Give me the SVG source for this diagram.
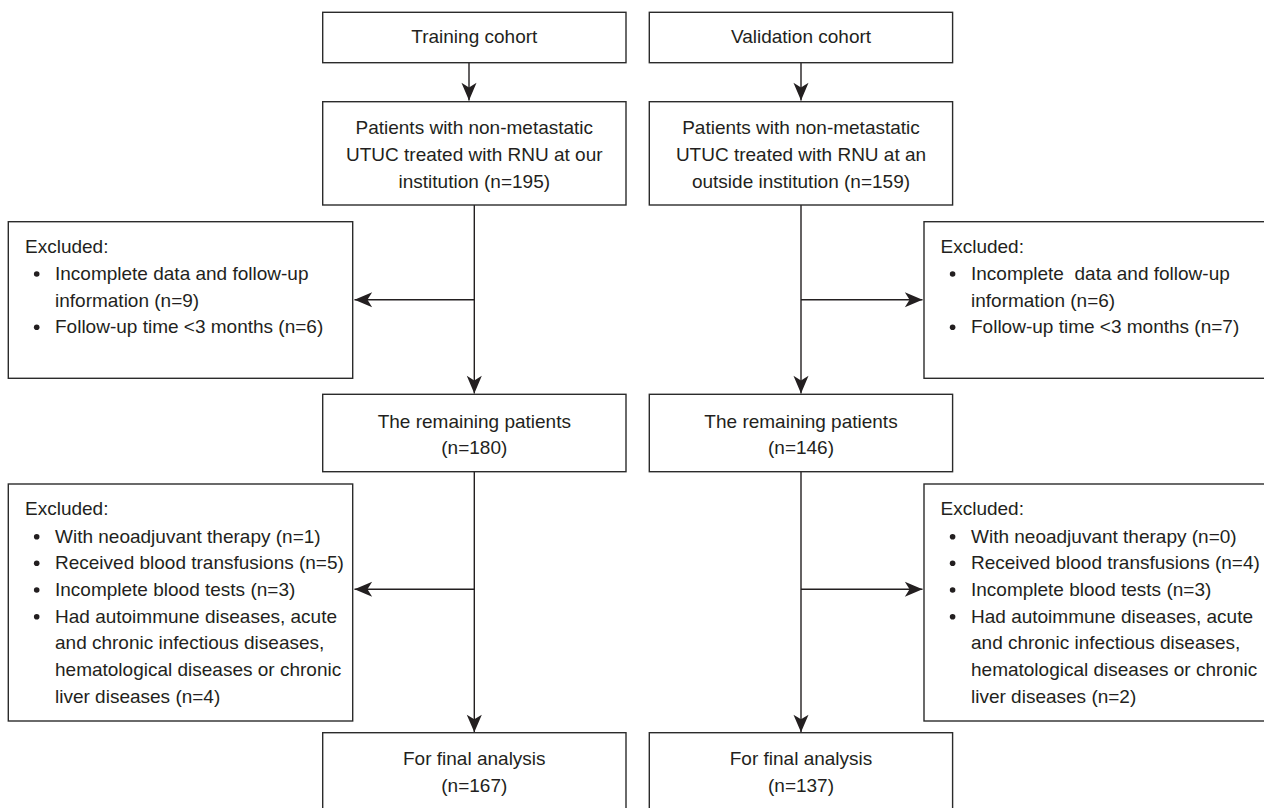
<svg xmlns="http://www.w3.org/2000/svg" width="1264" height="808" viewBox="0 0 1264 808">
<style>
.box{fill:#fff;stroke:#2b2b2b;stroke-width:1.4}
.t{font-family:"Liberation Sans",Arial,sans-serif;font-size:19px;fill:#231f20}
.c{text-anchor:middle}
.ln{fill:none;stroke:#231f20;stroke-width:1.4}
.dot{fill:#231f20}
</style>
<defs>
<marker id="ah" markerUnits="userSpaceOnUse" markerWidth="20" markerHeight="20" viewBox="-16 -8 17 16" refX="0" refY="0" orient="auto">
<path d="M0,0 L-15,-6.4 L-11,0 L-15,6.4 Z" fill="#231f20"/>
</marker>
</defs>
<rect width="1264" height="808" fill="#fff"/>
<g id="connectors">
<line class="ln" x1="469" y1="62.7" x2="469" y2="100.5" marker-end="url(#ah)"/>
<line class="ln" x1="801" y1="62.7" x2="801" y2="100.5" marker-end="url(#ah)"/>
<line class="ln" x1="474.3" y1="205" x2="474.3" y2="393.5" marker-end="url(#ah)"/>
<line class="ln" x1="801" y1="205" x2="801" y2="393.5" marker-end="url(#ah)"/>
<line class="ln" x1="474.3" y1="299.7" x2="354.5" y2="299.7" marker-end="url(#ah)"/>
<line class="ln" x1="801" y1="299.7" x2="922.5" y2="299.7" marker-end="url(#ah)"/>
<line class="ln" x1="474.3" y1="471.7" x2="474.3" y2="732.3" marker-end="url(#ah)"/>
<line class="ln" x1="801" y1="471.7" x2="801" y2="732.3" marker-end="url(#ah)"/>
<line class="ln" x1="474.3" y1="589.3" x2="354.5" y2="589.3" marker-end="url(#ah)"/>
<line class="ln" x1="801" y1="589.3" x2="922.5" y2="589.3" marker-end="url(#ah)"/>
</g>
<g id="training">
<rect class="box" x="322.7" y="12.3" width="303.3" height="50.4"/>
<text class="t c" x="474.3" y="43.3">Training cohort</text>
</g>
<g id="validation">
<rect class="box" x="649.3" y="12.3" width="303.3" height="50.4"/>
<text class="t c" x="801" y="43.3">Validation cohort</text>
</g>
<g id="patients-training">
<rect class="box" x="322.7" y="101.7" width="303.3" height="103.3"/>
<text class="t c" x="474.3" y="134.3">Patients with non-metastatic</text>
<text class="t c" x="474.3" y="161">UTUC treated with RNU at our</text>
<text class="t c" x="474.3" y="187.7">institution (n=195)</text>
</g>
<g id="patients-validation">
<rect class="box" x="649.3" y="101.7" width="303.3" height="103.3"/>
<text class="t c" x="801" y="134.3">Patients with non-metastatic</text>
<text class="t c" x="801" y="161">UTUC treated with RNU at an</text>
<text class="t c" x="801" y="187.7">outside institution (n=159)</text>
</g>
<g id="excluded1-training">
<rect class="box" x="8.3" y="221.7" width="344.4" height="156.6"/>
<text class="t" x="25" y="252.7">Excluded:</text>
<circle class="dot" cx="36.7" cy="274" r="2.8"/>
<text class="t" x="55" y="280">Incomplete data and follow-up</text>
<text class="t" x="55" y="306.7">information (n=9)</text>
<circle class="dot" cx="36.7" cy="327.3" r="2.8"/>
<text class="t" x="55" y="333.3">Follow-up time &lt;3 months (n=6)</text>
</g>
<g id="excluded1-validation">
<rect class="box" x="924" y="221.7" width="350" height="156.6"/>
<text class="t" x="940.5" y="252.7">Excluded:</text>
<circle class="dot" cx="952.6" cy="274" r="2.8"/>
<text class="t" x="971" y="280" style="white-space:pre">Incomplete  data and follow-up</text>
<text class="t" x="971" y="306.7">information (n=6)</text>
<circle class="dot" cx="952.6" cy="327.3" r="2.8"/>
<text class="t" x="971" y="333.3">Follow-up time &lt;3 months (n=7)</text>
</g>
<g id="remaining-training">
<rect class="box" x="322.7" y="394.3" width="303.3" height="77.4"/>
<text class="t c" x="474.3" y="427.7">The remaining patients</text>
<text class="t c" x="474.3" y="454.3">(n=180)</text>
</g>
<g id="remaining-validation">
<rect class="box" x="649.3" y="394.3" width="303.3" height="77.4"/>
<text class="t c" x="801" y="427.7">The remaining patients</text>
<text class="t c" x="801" y="454.3">(n=146)</text>
</g>
<g id="excluded2-training">
<rect class="box" x="8.3" y="484" width="344.4" height="237"/>
<text class="t" x="25" y="515">Excluded:</text>
<circle class="dot" cx="36.7" cy="536.7" r="2.8"/>
<text class="t" x="55" y="542.7">With neoadjuvant therapy (n=1)</text>
<circle class="dot" cx="36.7" cy="563.3" r="2.8"/>
<text class="t" x="55" y="569.3">Received blood transfusions (n=5)</text>
<circle class="dot" cx="36.7" cy="590" r="2.8"/>
<text class="t" x="55" y="596">Incomplete blood tests (n=3)</text>
<circle class="dot" cx="36.7" cy="616.7" r="2.8"/>
<text class="t" x="55" y="622.7">Had autoimmune diseases, acute</text>
<text class="t" x="55" y="649.3">and chronic infectious diseases,</text>
<text class="t" x="55" y="676">hematological diseases or chronic</text>
<text class="t" x="55" y="702.7">liver diseases (n=4)</text>
</g>
<g id="excluded2-validation">
<rect class="box" x="924" y="484" width="350" height="237"/>
<text class="t" x="940.5" y="515">Excluded:</text>
<circle class="dot" cx="952.6" cy="536.7" r="2.8"/>
<text class="t" x="971" y="542.7">With neoadjuvant therapy (n=0)</text>
<circle class="dot" cx="952.6" cy="563.3" r="2.8"/>
<text class="t" x="971" y="569.3">Received blood transfusions (n=4)</text>
<circle class="dot" cx="952.6" cy="590" r="2.8"/>
<text class="t" x="971" y="596">Incomplete blood tests (n=3)</text>
<circle class="dot" cx="952.6" cy="616.7" r="2.8"/>
<text class="t" x="971" y="622.7">Had autoimmune diseases, acute</text>
<text class="t" x="971" y="649.3">and chronic infectious diseases,</text>
<text class="t" x="971" y="676">hematological diseases or chronic</text>
<text class="t" x="971" y="702.7">liver diseases (n=2)</text>
</g>
<g id="final-training">
<rect class="box" x="322.7" y="732.7" width="303.3" height="90"/>
<text class="t c" x="474.3" y="765">For final analysis</text>
<text class="t c" x="474.3" y="791.7">(n=167)</text>
</g>
<g id="final-validation">
<rect class="box" x="649.3" y="732.7" width="303.3" height="90"/>
<text class="t c" x="801" y="765">For final analysis</text>
<text class="t c" x="801" y="791.7">(n=137)</text>
</g>
</svg>
